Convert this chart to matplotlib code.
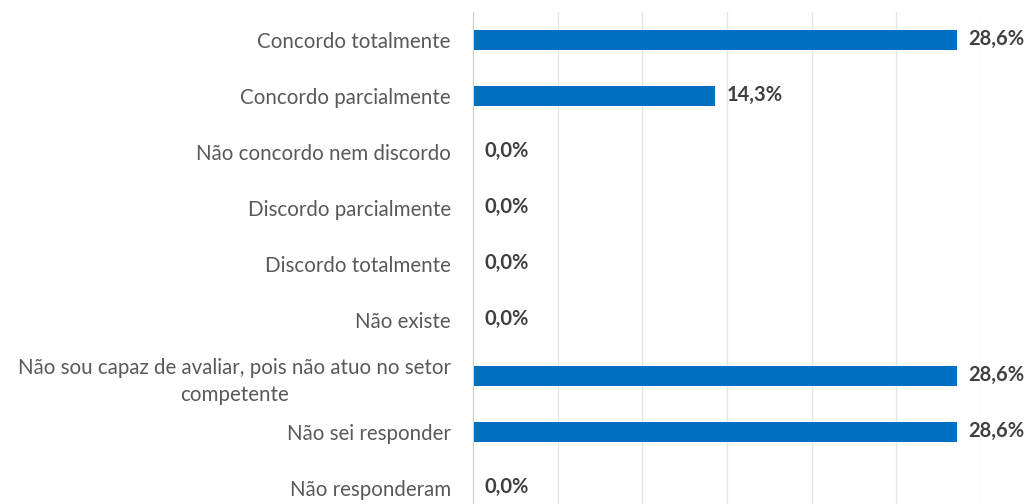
import matplotlib
matplotlib.use("Agg")
import matplotlib.pyplot as plt

categorias = [
    "Concordo totalmente",
    "Concordo parcialmente",
    "Não concordo nem discordo",
    "Discordo parcialmente",
    "Discordo totalmente",
    "Não existe",
    "Não sou capaz de avaliar, pois não atuo no setor\ncompetente",
    "Não sei responder",
    "Não responderam",
]
valores = [28.6, 14.3, 0.0, 0.0, 0.0, 0.0, 28.6, 28.6, 0.0]
rotulos = ["28,6%", "14,3%", "0,0%", "0,0%", "0,0%", "0,0%", "28,6%", "28,6%", "0,0%"]

plt.rcParams["font.family"] = ["Lato", "DejaVu Sans"]

fig = plt.figure(figsize=(10.28, 5.04), dpi=100)
# area do grafico vai um pouco alem da borda de baixo
ax = fig.add_axes([473 / 1028, -12 / 504, 508 / 1028, 1.0])

y = list(range(len(categorias)))
ax.barh(y, valores, height=0.36, color="#0070C0", zorder=3)

for yi, v, r in zip(y, valores, rotulos):
    ax.annotate(r, (v, yi), xytext=(8, 1), textcoords="offset points",
                va="center", ha="left", fontsize=14.5, fontweight="bold",
                color="#404040")

ax.set_xlim(0, 30)
ax.set_ylim(len(categorias) - 0.5, -0.5)
ax.set_xticks([0, 5, 10, 15, 20, 25, 30])
ax.set_xticklabels([])
ax.tick_params(axis="x", length=0)
ax.grid(axis="x", color="#e6e6e6", linewidth=1, zorder=0)

ax.set_yticks(y)
ax.set_yticklabels(categorias, fontsize=14.8, color="#595959")
ax.tick_params(axis="y", length=0, pad=16)
for lab in ax.get_yticklabels():
    lab.set_multialignment("center")
    lab.set_linespacing(1.45)
    lab.set_y(lab.get_position()[1])

for s in ["top", "right", "bottom"]:
    ax.spines[s].set_visible(False)
ax.spines["left"].set_color("#d0d0d0")
ax.spines["left"].set_zorder(4)

fig.savefig("out.png", dpi=100, facecolor="white")
